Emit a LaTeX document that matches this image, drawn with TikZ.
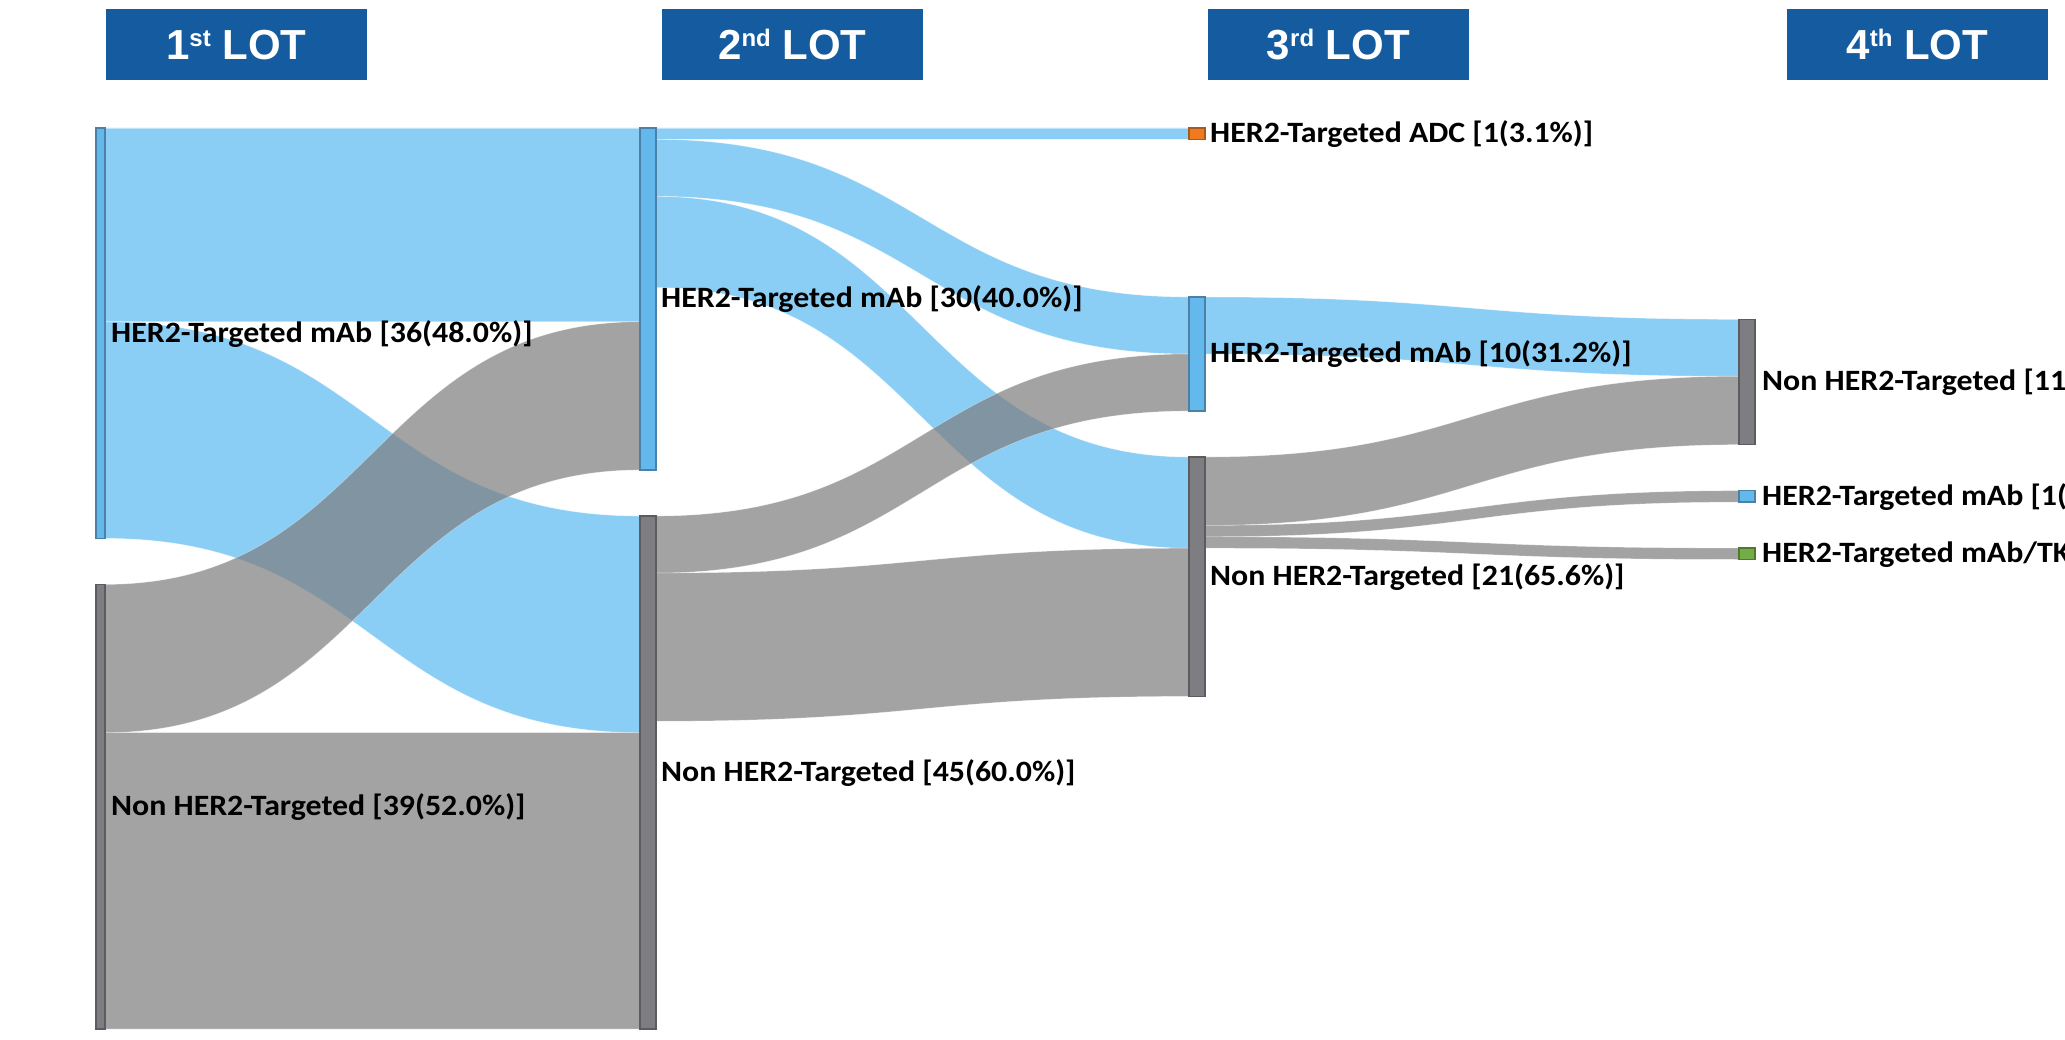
\documentclass[tikz,border=0pt]{standalone}
\usepackage{fontspec}
\usetikzlibrary{calc}
\newfontfamily\labfont{Carlito}[FakeStretch=1.08]
\newfontfamily\hdrfont{Liberation Sans}

\definecolor{hdrblue}{HTML}{155BA0}
\definecolor{bandblue}{HTML}{8BCEF5}
\definecolor{bandgray}{RGB}{124,124,126}
\definecolor{barblue}{HTML}{63B8EC}
\definecolor{barblueedge}{HTML}{4C80A6}
\definecolor{bargray}{HTML}{7E7E82}
\definecolor{bargrayedge}{HTML}{5C5C60}
\definecolor{barorange}{HTML}{F07A1E}
\definecolor{barorangeedge}{HTML}{A65A22}
\definecolor{bargreen}{HTML}{76AC47}
\definecolor{bargreenedge}{HTML}{4E7A30}

% one patient = 11.4 px of bar height
\def\unitpx{11.4pt}

% ribbon between two bars: style, source, top/bottom offsets at source (in patients),
% target, top/bottom offsets at target (in patients)
\newcommand\ribbon[7]{%
  \path[#1] let \p1=(#2.north east), \p2=(#5.north west), \n1={0.5*(\x1+\x2)} in
    (\x1,{\y1-#3*\unitpx})
      .. controls ({\n1*1pt},{\y1-#3*\unitpx}) and ({\n1*1pt},{\y2-#6*\unitpx}) ..
    (\x2,{\y2-#6*\unitpx})
    -- (\x2,{\y2-#7*\unitpx})
      .. controls ({\n1*1pt},{\y2-#7*\unitpx}) and ({\n1*1pt},{\y1-#4*\unitpx}) ..
    (\x1,{\y1-#4*\unitpx}) -- cycle;}

\tikzset{
  hdr/.style={fill=hdrblue, text=white, minimum width=261pt, minimum height=71pt,
    inner sep=0pt, font=\hdrfont\bfseries\fontsize{42}{46}\selectfont},
  bar/.style={rectangle, inner sep=0pt, outer sep=0pt, line width=1.4pt,
    anchor=north west, minimum width=16pt},
  bluebar/.style={bar, fill=barblue, draw=barblueedge},
  graybar/.style={bar, fill=bargray, draw=bargrayedge},
  orangebar/.style={bar, fill=barorange, draw=barorangeedge},
  greenbar/.style={bar, fill=bargreen, draw=bargreenedge},
  lab/.style={anchor=base west, inner sep=0pt, text=black,
    font=\labfont\bfseries\fontsize{29.5}{32}\selectfont},
  blueband/.style={fill=bandblue, draw=white, draw opacity=0.45, line width=0.6pt},
  grayband/.style={fill=bandgray, fill opacity=0.7, draw=white, draw opacity=0.35, line width=0.6pt},
}

\begin{document}
\begin{tikzpicture}[x=1pt, y=-1pt]
\useasboundingbox (0,0) rectangle (2065,1040);
\clip (0,0) rectangle (2065,1040);

% column headers
\node[hdr] (h1) at (236.3,45) {1\raisebox{13pt}{\fontsize{24}{24}\selectfont st} LOT};
\node[hdr] (h2) at (792.3,45) {2\raisebox{13pt}{\fontsize{24}{24}\selectfont nd} LOT};
\node[hdr] (h3) at (1338.3,45) {3\raisebox{13pt}{\fontsize{24}{24}\selectfont rd} LOT};
\node[hdr] (h4) at (1917.3,45) {4\raisebox{13pt}{\fontsize{24}{24}\selectfont th} LOT};

% bars (placed first as named nodes, drawn again on top of the ribbons)
\path
  (96,128)    node[bluebar, minimum width=9pt, minimum height=410.4pt] (c1H) {}
  (96,584.4)  node[graybar, minimum width=9pt, minimum height=444.6pt] (c1N) {}
  (640,128)   node[bluebar, minimum height=342pt] (c2H) {}
  (640,516)   node[graybar, minimum height=513pt] (c2N) {}
  (1189,128)  node[orangebar, minimum height=11.4pt] (c3A) {}
  (1189,297)  node[bluebar, minimum height=114pt] (c3H) {}
  (1189,457)  node[graybar, minimum height=239.4pt] (c3N) {}
  (1739,319.3) node[graybar, minimum height=125.4pt] (c4N) {}
  (1739,490.7) node[bluebar, minimum height=11.4pt] (c4H) {}
  (1739,548.1) node[greenbar, minimum height=11.4pt] (c4T) {};

% ribbons starting from HER2-targeted bars
\ribbon{blueband}{c1H}{0}{17}{c2H}{0}{17}
\ribbon{blueband}{c1H}{17}{36}{c2N}{0}{19}
\ribbon{blueband}{c2H}{0}{1}{c3A}{0}{1}
\ribbon{blueband}{c2H}{1}{6}{c3H}{0}{5}
\ribbon{blueband}{c2H}{6}{14}{c3N}{0}{8}
\ribbon{blueband}{c3H}{0}{5}{c4N}{0}{5}

% ribbons starting from non HER2-targeted bars
\ribbon{grayband}{c1N}{0}{13}{c2H}{17}{30}
\ribbon{grayband}{c1N}{13}{39}{c2N}{19}{45}
\ribbon{grayband}{c2N}{0}{5}{c3H}{5}{10}
\ribbon{grayband}{c2N}{5}{18}{c3N}{8}{21}
\ribbon{grayband}{c3N}{0}{6}{c4N}{5}{11}
\ribbon{grayband}{c3N}{6}{7}{c4H}{0}{1}
\ribbon{grayband}{c3N}{7}{8}{c4T}{0}{1}

% bars on top
\path
  (96,128)    node[bluebar, minimum width=9pt, minimum height=410.4pt] {}
  (96,584.4)  node[graybar, minimum width=9pt, minimum height=444.6pt] {}
  (640,128)   node[bluebar, minimum height=342pt] {}
  (640,516)   node[graybar, minimum height=513pt] {}
  (1189,128)  node[orangebar, minimum height=11.4pt] {}
  (1189,297)  node[bluebar, minimum height=114pt] {}
  (1189,457)  node[graybar, minimum height=239.4pt] {}
  (1739,319.3) node[graybar, minimum height=125.4pt] {}
  (1739,490.7) node[bluebar, minimum height=11.4pt] {}
  (1739,548.1) node[greenbar, minimum height=11.4pt] {};

% labels
\node[lab] (l1H) at ($(c1H.east)+(6,9)$) {HER2-Targeted mAb [36(48.0\%)]};
\node[lab] (l1N) at ($(c1N.east)+(6,9)$) {Non HER2-Targeted [39(52.0\%)]};
\node[lab] (l2H) at ($(c2H.east)+(5,9)$) {HER2-Targeted mAb [30(40.0\%)]};
\node[lab] (l2N) at ($(c2N.east)+(5,9)$) {Non HER2-Targeted [45(60.0\%)]};
\node[lab] (l3A) at ($(c3A.east)+(5,9)$) {HER2-Targeted ADC [1(3.1\%)]};
\node[lab] (l3H) at ($(c3H.east)+(5,9)$) {HER2-Targeted mAb [10(31.2\%)]};
\node[lab] (l3N) at ($(c3N.east)+(5,9)$) {Non HER2-Targeted [21(65.6\%)]};
\node[lab] (l4N) at ($(c4N.east)+(7,9)$) {Non HER2-Targeted [11};
\node[lab] (l4H) at ($(c4H.east)+(7,9)$) {HER2-Targeted mAb [1(};
\node[lab] (l4T) at ($(c4T.east)+(7,9)$) {HER2-Targeted mAb/TK};
\end{tikzpicture}
\end{document}
